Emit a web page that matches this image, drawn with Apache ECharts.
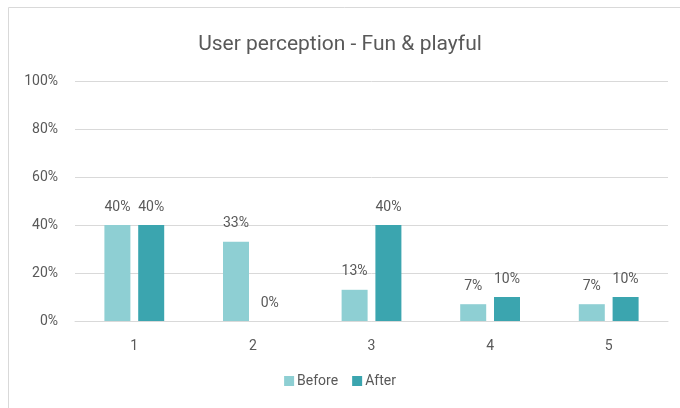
<!DOCTYPE html>
<html>
<head>
<meta charset="utf-8">
<script src="https://cdn.jsdelivr.net/npm/echarts@6/dist/echarts.min.js"></script>
<style>
  html, body { margin: 0; padding: 0; background: #fff; }
  #container { width: 680px; height: 408px; }
</style>
</head>
<body>
<div id="container"></div>
<script>
var categories = ['1', '2', '3', '4', '5'];
var beforeValues = [40, 33, 13, 7, 7];
var afterValues = [40, 0, 40, 10, 10];
var yTicks = [0, 20, 40, 60, 80, 100];

var font = '"Liberation Sans Narrow", "Roboto", sans-serif';
var textColor = '#595959';

var myChart = echarts.init(document.getElementById('container'));
var option = {
    animation: false,
    textStyle: { fontFamily: font },
    graphic: [{
        type: 'rect',
        shape: { x: 8.5, y: 7.5, width: 700, height: 420 },
        style: { fill: 'none', stroke: '#d9d9d9', lineWidth: 1 },
        silent: true
    }],
    title: {
        text: 'User perception - Fun & playful',
        left: 'center',
        top: 29,
        textStyle: { fontFamily: font, fontSize: 21, fontWeight: 'normal', color: textColor }
    },
    legend: {
        data: ['Before', 'After'],
        bottom: 15,
        left: 'center',
        itemWidth: 10,
        itemHeight: 10,
        itemGap: 14,
        icon: 'rect',
        textStyle: { fontFamily: font, fontSize: 14, color: textColor, padding: [0, 0, 0, -2] }
    },
    grid: { left: 75, right: 12, top: 81, bottom: 87, containLabel: false },
    xAxis: {
        type: 'category',
        data: categories,
        axisLine: { lineStyle: { color: '#d9d9d9' } },
        axisTick: { show: false },
        axisLabel: { color: textColor, fontSize: 14, fontFamily: font, margin: 18 }
    },
    yAxis: {
        type: 'value',
        min: yTicks[0],
        max: yTicks[yTicks.length - 1],
        interval: 20,
        axisLine: { show: false },
        axisTick: { show: false },
        splitLine: { lineStyle: { color: '#d9d9d9' } },
        axisLabel: {
            color: textColor, fontSize: 14, fontFamily: font, margin: 17,
            formatter: '{value}%'
        }
    },
    series: [{
        name: 'Before',
        type: 'bar',
        data: beforeValues,
        barWidth: 26,
        barGap: '30%',
        itemStyle: { color: '#8ECFD3' },
        label: {
            show: true, position: 'top', distance: 11, formatter: '{c}%',
            color: textColor, fontSize: 14, fontFamily: font
        }
    }, {
        name: 'After',
        type: 'bar',
        data: afterValues,
        barWidth: 26,
        barGap: '30%',
        itemStyle: { color: '#3BA5AF' },
        label: {
            show: true, position: 'top', distance: 11, formatter: '{c}%',
            color: textColor, fontSize: 14, fontFamily: font
        }
    }]
};
myChart.setOption(option);
</script>
</body>
</html>
